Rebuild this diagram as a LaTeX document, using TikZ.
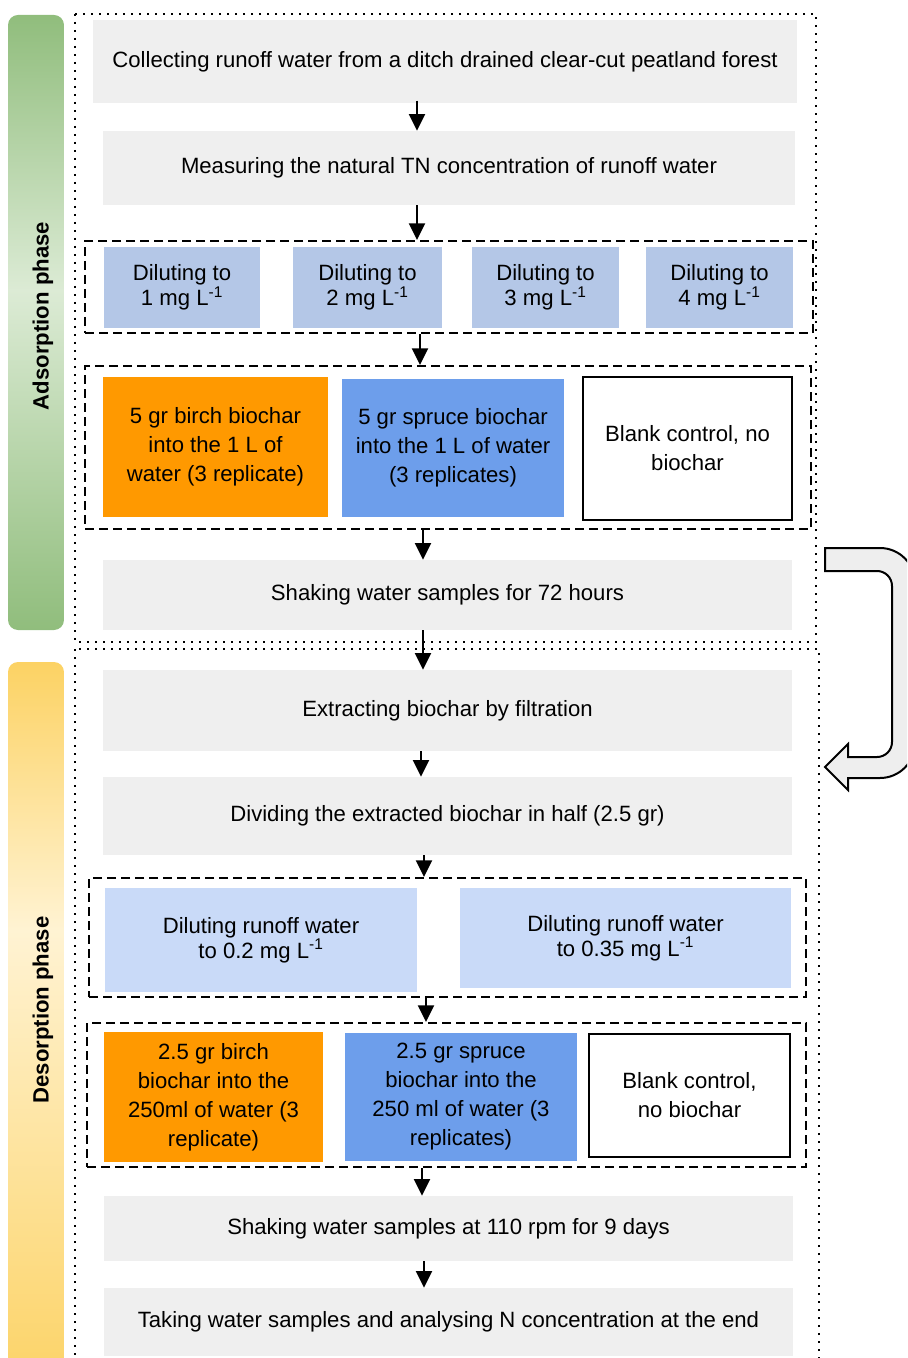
\documentclass[tikz,border=0pt]{standalone}
\usepackage{fontspec}
\setmainfont{Liberation Sans}
\usetikzlibrary{arrows.meta}
\definecolor{boxgray}{HTML}{EFEFEF}
\definecolor{dilblue}{HTML}{B4C7E7}
\definecolor{lightblue}{HTML}{C9DAF8}
\definecolor{birch}{HTML}{FF9900}
\definecolor{spruce}{HTML}{6D9EEB}
\definecolor{gdark}{HTML}{90BD7C}
\definecolor{glight}{HTML}{DCEBD5}
\definecolor{ydark}{HTML}{FCD263}
\definecolor{ylight}{HTML}{FFF3D3}
\definecolor{arrowgray}{HTML}{EEEEEE}
\begin{document}
\begin{tikzpicture}[x=0.75pt,y=-0.75pt,
  every node/.style={font=\fontsize{16.6}{21.75}\selectfont, inner sep=0pt, align=center},
  sz/.style 2 args={minimum width=#1*0.75pt, minimum height=#2*0.75pt},
  gbox/.style={fill=boxgray},
  dil/.style={fill=dilblue, font=\fontsize{16.6}{18.75}\selectfont},
  ldil/.style={fill=lightblue, font=\fontsize{16.6}{18.75}\selectfont},
  birchbox/.style={fill=birch},
  sprucebox/.style={fill=spruce},
  blankbox/.style={draw=black, fill=white, line width=1.5pt},
  grp/.style={draw=black, line width=1.5pt, dash pattern=on 6.75pt off 3.75pt},
  dotbox/.style={draw=black, line width=1.5pt, dash pattern=on 1.5pt off 4.5pt},
  arr/.style={line width=1.6pt, -{Triangle[length=12.5pt,width=12pt]}},
  phase/.style={font=\fontsize{16.6}{20}\selectfont\bfseries, rotate=90},
]
\useasboundingbox (0,0) rectangle (907,1358);
\clip (0,0) rectangle (907,1358);

% phase bars
\begin{scope}
  \clip[rounded corners=7.5pt] (8,15) rectangle (64,630);
  \shade[top color=gdark, bottom color=glight] (8,14) rectangle (64,291);
  \shade[top color=glight, bottom color=gdark] (8,290) rectangle (64,631);
\end{scope}
\begin{scope}
  \clip[rounded corners=7.5pt] (8,662) rectangle (64,1400);
  \shade[top color=ydark, bottom color=ylight] (8,661) rectangle (64,931);
  \shade[top color=ylight, bottom color=ydark] (8,930) rectangle (64,1401);
\end{scope}
\node[phase] (adsl) at (43,316) {Adsorption phase};
\node[phase] (desl) at (43,1010) {Desorption phase};

% dotted phase frames
\draw[dotbox] (75,14) rectangle (816,642);
\draw[dotbox] (75,649) rectangle (819,1380);

% adsorption steps
\node[gbox, sz={704}{83}] (n1) at (445,61.5) {Collecting runoff water from a ditch drained clear-cut peatland forest};
\node[gbox, sz={692}{74}] (n2) at (449,168) {Measuring the natural TN concentration of runoff water};

\node[grp, sz={728}{92}] (g1) at (449,287) {};
\node[dil, sz={156}{81}] (d1) at (182,287.5) {Diluting to\\1 mg L\textsuperscript{-1}};
\node[dil, sz={149}{81}] (d2) at (367.5,287.5) {Diluting to\\2 mg L\textsuperscript{-1}};
\node[dil, sz={147}{81}] (d3) at (545.5,287.5) {Diluting to\\3 mg L\textsuperscript{-1}};
\node[dil, sz={147}{81}] (d4) at (719.5,287.5) {Diluting to\\4 mg L\textsuperscript{-1}};

\node[grp, sz={726}{163}] (g2) at (448,447.5) {};
\node[birchbox, sz={225}{140}] (o1) at (215.5,447) {5 gr birch biochar\\into the 1 L of\\water (3 replicate)};
\node[sprucebox, sz={222}{138}] (s1) at (453,448) {5 gr spruce biochar\\into the 1 L of water\\(3 replicates)};
\node[blankbox, sz={209}{143}] (b1) at (687.5,448.5) {Blank control, no\\biochar};

\node[gbox, sz={689}{70}] (n3) at (447.5,595) {Shaking water samples for 72 hours};

% desorption steps
\node[gbox, sz={689}{81}] (n4) at (447.5,710.5) {Extracting biochar by filtration};
\node[gbox, sz={689}{78}] (n5) at (447.5,816) {Dividing the extracted biochar in half (2.5 gr)};

\node[grp, sz={717}{119}] (g3) at (447.5,937.5) {};
\node[ldil, sz={312}{104}] (l1) at (261,940) {Diluting runoff water\\to 0.2 mg L\textsuperscript{-1}};
\node[ldil, sz={331}{100}] (l2) at (625.5,938) {Diluting runoff water\\to 0.35 mg L\textsuperscript{-1}};

\node[grp, sz={719}{144}] (g4) at (446.5,1095) {};
\node[birchbox, sz={219}{130}] (o2) at (213.5,1097) {2.5 gr birch\\biochar into the\\250ml of water (3\\replicate)};
\node[sprucebox, sz={232}{128}] (s2) at (461,1097) {2.5 gr spruce\\biochar into the\\250 ml of water (3\\replicates)};
\node[blankbox, sz={201}{123}] (b2) at (689.5,1095.5) {Blank control,\\no biochar};

\node[gbox, sz={689}{65}] (n6) at (448.5,1228.5) {Shaking water samples at 110 rpm for 9 days};
\node[gbox, sz={689}{68}] (n7) at (448.5,1322) {Taking water samples and analysing N concentration at the end};

% connectors
\draw[arr] ([xshift=-21pt,yshift=2pt]n1.south) -- ([xshift=-24pt]n2.north);
\draw[arr] ([xshift=-24pt]n2.south) -- ([xshift=-24pt]g1.north);
\draw[arr] ([xshift=-21.75pt]g1.south) -- ([xshift=-21pt]g2.north);
\draw[arr] ([xshift=-18.75pt]g2.south) -- ([xshift=-18.375pt]n3.north);
\draw[arr] ([xshift=-18.375pt]n3.south) -- ([xshift=-18.375pt]n4.north);
\draw[arr] ([xshift=-19.875pt]n4.south) -- ([xshift=-19.875pt]n5.north);
\draw[arr] ([xshift=-17.625pt]n5.south) -- ([xshift=-17.625pt]g3.north);
\draw[arr] ([xshift=-16.125pt]g3.south) -- ([xshift=-15.375pt]g4.north);
\draw[arr] ([xshift=-18.375pt]g4.south) -- ([xshift=-19.875pt]n6.north);
\draw[arr] ([xshift=-18.375pt]n6.south) -- ([xshift=-18.375pt]n7.north);

% U-turn arrow
\draw[fill=arrowgray, line width=1.5pt, line join=miter]
  (825,767) -- (848,744) -- (848,757) -- (877,757)
  .. controls (885.3,757) and (892,750.3) .. (892,742) -- (892,586)
  .. controls (892,577.7) and (885.3,571) .. (877,571) -- (825,571) -- (825,548) -- (880,548)
  .. controls (899.3,548) and (915,563.7) .. (915,583) -- (915,743)
  .. controls (915,762.3) and (899.3,778) .. (880,778) -- (848,778) -- (848,790) -- cycle;
\end{tikzpicture}
\end{document}
